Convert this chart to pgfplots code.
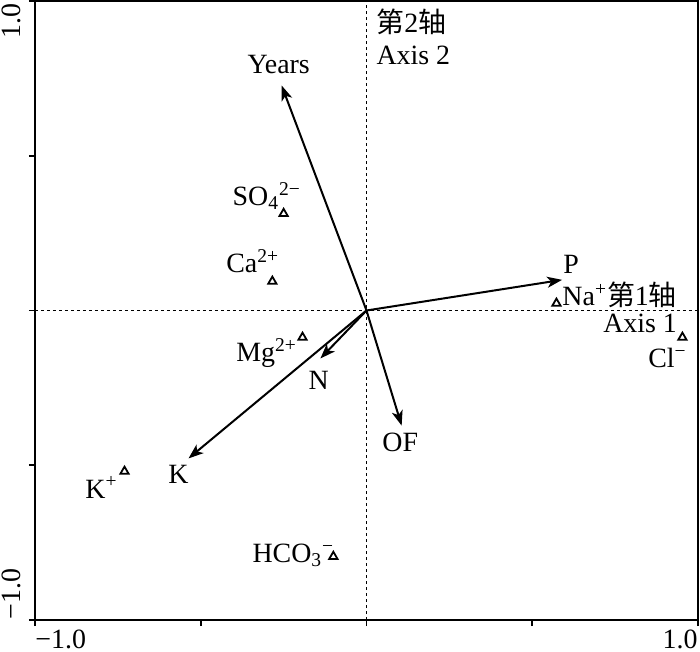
\documentclass[border=0pt]{standalone}
\usepackage{pgfplots}
\pgfplotsset{compat=1.18}
\usepackage{fontspec}
\setmainfont{Liberation Serif}
\newfontfamily\cjk{Noto Sans CJK SC}
\usetikzlibrary{arrows.meta}

\begin{document}
\begin{tikzpicture}[font=\fontsize{14}{16}\selectfont,
  vec/.style={line width=1bp, -{Stealth[length=7.5bp,width=5.5bp,inset=2bp]}},
  lab/.style={anchor=base west, inner sep=0pt}]
\useasboundingbox (-17.5bp,-16bp) rectangle (332.5bp,310bp);
\begin{axis}[
  scale only axis, width=331.5bp, height=309.5bp,
  xmin=-1, xmax=1, ymin=-1, ymax=1,
  axis line style={line width=1bp},
  xtick={-1,-0.5,0,0.5,1}, ytick={-1,-0.5,0,0.5,1},
  xticklabels={}, yticklabels={},
  tick align=outside, xtick pos=left, ytick pos=left,
  major tick length=3bp, tick style={line width=0.8bp, black},
  clip=false,
]
% reference lines
\addplot[black, line width=0.6bp, dash pattern=on 1.5bp off 1.5bp] coordinates {(-1,0) (1,0)};
\addplot[black, line width=0.6bp, dash pattern=on 1.5bp off 1.5bp] coordinates {(0,-1) (0,1)};
% environmental vectors
\addplot[vec] coordinates {(0,0) (-0.256,0.727)};
\addplot[vec] coordinates {(0,0) (0.590,0.099)};
\addplot[vec] coordinates {(0,0) (0.106,-0.372)};
\addplot[vec] coordinates {(0,0) (-0.139,-0.155)};
\addplot[vec] coordinates {(0,0) (-0.537,-0.478)};
% ions
\addplot[only marks, mark=triangle, mark size=2.4bp, mark options={line width=0.9bp, black}] coordinates {
  (-0.250,0.313) (-0.284,0.094) (-0.193,-0.087) (0.573,0.023)
  (0.953,-0.087) (-0.730,-0.520) (-0.100,-0.795)
};
% labels
\node[lab] at (axis cs:-0.360,0.766) {Years};
\node[lab] at (axis cs:0.029,0.898) {{\cjk 第}2{\cjk 轴}};
\node[lab] at (axis cs:0.029,0.795) {Axis 2};
\node[lab] at (axis cs:-0.405,0.339) {SO\textsubscript{4}\textsuperscript{2−}};
\node[lab] at (axis cs:-0.424,0.123) {Ca\textsuperscript{2+}};
\node[lab] at (axis cs:-0.394,-0.165) {Mg\textsuperscript{2+}};
\node[lab] at (axis cs:-0.176,-0.255) {N};
\node[lab] at (axis cs:-0.599,-0.560) {K};
\node[lab] at (axis cs:-0.849,-0.607) {K\textsuperscript{+}};
\node[lab] at (axis cs:-0.345,-0.814) {HCO\textsubscript{3}\textsuperscript{−}};
\node[lab] at (axis cs:0.047,-0.456) {OF};
\node[lab] at (axis cs:0.593,0.120) {P};
\node[lab] at (axis cs:0.590,0.016) {Na\textsuperscript{+}{\cjk 第}1{\cjk 轴}};
\node[lab] at (axis cs:0.713,-0.071) {Axis 1};
\node[lab] at (axis cs:0.849,-0.184) {Cl\textsuperscript{−}};
% tick labels
\node[rotate=90, anchor=south east, inner sep=0pt] at ([xshift=-6.7bp,yshift=-1bp]rel axis cs:0,1) {1.0};
\node[rotate=90, anchor=south west, inner sep=0pt] at ([xshift=-6.7bp]rel axis cs:0,0) {−1.0};
\node[anchor=north west, inner sep=0pt] at ([yshift=-5bp]rel axis cs:0,0) {−1.0};
\node[anchor=north east, inner sep=0pt] at ([yshift=-5bp]rel axis cs:1,0) {1.0};
\end{axis}
\end{tikzpicture}
\end{document}
